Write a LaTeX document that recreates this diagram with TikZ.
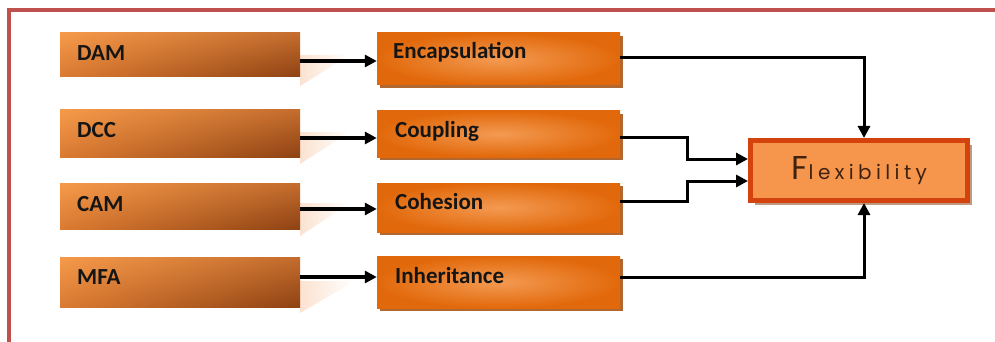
\documentclass[tikz,border=0pt]{standalone}
\usepackage{fontspec}
\setmainfont{Carlito}
\newfontfamily\flexfont[LetterSpace=22]{Poppins}
\newfontfamily\flexbig{Poppins}
\usetikzlibrary{arrows.meta,calc,shadows,shadings}
\definecolor{frame}{HTML}{C0504D}
\definecolor{ul}{HTML}{F59A4A}
\definecolor{ur}{HTML}{C46C2D}
\definecolor{ll}{HTML}{DB7A31}
\definecolor{lr}{HTML}{8E4213}
\definecolor{midout}{HTML}{E2690B}
\definecolor{midin}{HTML}{F39A52}
\definecolor{midshadow}{HTML}{A8561A}
\definecolor{flexfill}{HTML}{F5964C}
\definecolor{flexline}{HTML}{D4430E}
\definecolor{flexshadow}{HTML}{BE9A80}
\definecolor{flextext}{HTML}{3F2210}
\definecolor{peach}{HTML}{FBE2D0}
\definecolor{txt}{HTML}{151515}
\tikzset{
  leftbox/.style={rectangle, minimum width=240pt, inner sep=0pt,
    upper left=ul, upper right=ur, lower left=ll, lower right=lr},
  midbox/.style={rectangle, minimum width=243pt, inner sep=0pt,
    inner color=midin, outer color=midout,
    drop shadow={shadow xshift=3pt, shadow yshift=-3pt, fill=midshadow, opacity=0.9}},
  flexbox/.style={rectangle, minimum width=217pt, minimum height=60pt,
    line width=5pt, draw=flexline, fill=flexfill, inner sep=0pt,
    drop shadow={shadow xshift=4pt, shadow yshift=-4pt, fill=flexshadow, opacity=1}},
  lbl/.style={anchor=base west, inner sep=0pt, text=txt,
    font=\fontsize{23}{23}\selectfont\bfseries},
  arr/.style={line width=3.5pt, -{Triangle[length=12pt,width=12pt]}},
  conn/.style={line width=3pt, -{Triangle[length=12pt,width=12pt]}},
  refl/.style={left color=peach, right color=white}
}
\begin{document}
\begin{tikzpicture}[x=1pt,y=-1pt]
\useasboundingbox (0,0) rectangle (995,342);
% frame
\draw[frame, line width=4pt] (9,342) -- (9,10) -- (995,10);
% reflections
\shade[refl] (300,55) -- (350,55) -- (300,86) -- cycle;
\shade[refl] (300,132) -- (350,132) -- (300,164) -- cycle;
\shade[refl] (300,203) -- (350,203) -- (300,236) -- cycle;
\shade[refl] (300,281) -- (355,281) -- (300,313) -- cycle;
% left boxes
\node[leftbox, minimum height=44pt] (dam) at (180,55) {};
\node[leftbox, minimum height=47pt] (dcc) at (180,133.5) {};
\node[leftbox, minimum height=46pt] (cam) at (180,206) {};
\node[leftbox, minimum height=50pt] (mfa) at (180,282) {};
% middle boxes
\node[midbox, minimum height=52pt] (enc) at (498.5,59) {};
\node[midbox, minimum height=46pt] (coup) at (498.5,134) {};
\node[midbox, minimum height=49pt] (coh) at (498.5,207.5) {};
\node[midbox, minimum height=52pt] (inh) at (498.5,282) {};
% flexibility
\node[flexbox, text=flextext] (flex) at (859,170.5)
  {{\flexbig\fontsize{33}{33}\selectfont F}\hspace{1pt}{\flexfont\fontsize{20}{20}\selectfont lexibility}};
% labels
\node[lbl] (tdam) at (77,61) {DAM};
\node[lbl] (tdcc) at (77,138) {DCC};
\node[lbl] (tcam) at (77,211) {CAM};
\node[lbl] (tmfa) at (77,284) {MFA};
\node[lbl] (tenc) at (393,59) {Encapsulation};
\node[lbl] (tcoup) at (395,138) {Coupling};
\node[lbl] (tcoh) at (395,209) {Cohesion};
\node[lbl] (tinh) at (395,283) {Inheritance};
% arrows left -> middle
\draw[arr] ($(dam.east)+(0,6)$) coordinate (a1) -- (a1 -| enc.west);
\draw[arr] ($(dcc.east)+(0,4.5)$) coordinate (a2) -- (a2 -| coup.west);
\draw[arr] ($(cam.east)+(0,3)$) coordinate (a3) -- (a3 -| coh.west);
\draw[arr] ($(mfa.east)+(0,-5)$) coordinate (a4) -- (a4 -| inh.west);
% connectors middle -> flexibility
\draw[conn] ($(enc.east)+(0,-1)$) -| ($(flex.north)+(5,0)$);
\draw[conn] ($(coup.east)+(0,3)$) -- ++(67,0) |- ($(flex.west)+(0,-11.5)$);
\draw[conn] ($(coh.east)+(0,-6.5)$) -- ++(67,0) |- ($(flex.west)+(0,10.5)$);
\draw[conn] ($(inh.east)+(0,-5)$) -| ($(flex.south)+(5,0)$);
\end{tikzpicture}
\end{document}
